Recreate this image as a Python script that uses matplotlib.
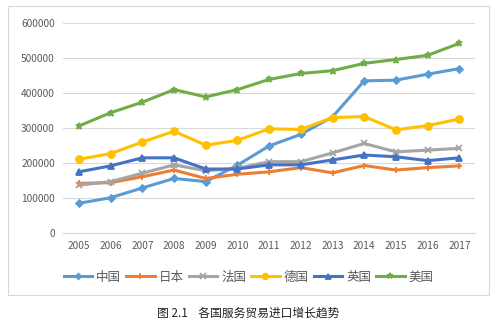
import numpy as np
import matplotlib.pyplot as plt
from matplotlib.patches import Rectangle

plt.rcParams['font.family'] = ['Noto Sans CJK SC', 'DejaVu Sans']

years = ['2005', '2006', '2007', '2008', '2009', '2010', '2011',
         '2012', '2013', '2014', '2015', '2016', '2017']

china = [85000, 101000, 129000, 156000, 147000, 194000, 249000,
         282000, 332000, 435000, 437000, 454000, 470000]
japan = [142000, 144000, 161000, 180000, 156000, 168000, 175000,
         187000, 172000, 193000, 180000, 187000, 192000]
france = [137000, 147000, 171000, 195000, 178000, 185000, 204000,
          204000, 229000, 256000, 232000, 237000, 242000]
germany = [211000, 227000, 260000, 291000, 251000, 265000, 298000,
           296000, 330000, 333000, 295000, 307000, 326000]
uk = [175000, 192000, 215000, 215000, 183000, 183000, 195000,
      195000, 209000, 223000, 218000, 207000, 215000]
usa = [306000, 344000, 374000, 410000, 389000, 410000, 439000,
       456000, 464000, 485000, 496000, 508000, 542000]

names = ['中国', '日本', '法国', '德国', '英国', '美国']
series = [china, japan, france, germany, uk, usa]
colors = ['#5B9BD5', '#ED7D31', '#A5A5A5', '#FFC000', '#4472C4', '#70AD47']
markers = ['D', '+', 'x', 'o', '^', '*']
msizes = [3.5, 5, 5, 5, 4.5, 5]

fig = plt.figure(figsize=(4.97, 3.21), dpi=100)
fig.patches.append(Rectangle((8 / 497, 1 - 295 / 321), 481 / 497, 289 / 321,
                             transform=fig.transFigure, fill=False,
                             edgecolor='#D9D9D9', linewidth=0.8))
ax = fig.add_axes([0.127, 0.274, 0.829, 0.654])

x = np.arange(len(years))
for vals, name, c, m, ms in zip(series, names, colors, markers, msizes):
    ax.plot(x, vals, color=c, linewidth=2.2, marker=m, markersize=ms,
            markeredgewidth=1.3, label=name)

ax.set_xlim(-0.5, 12.5)
ax.set_ylim(0, 600000)
ax.set_yticks(np.arange(0, 600001, 100000))
ax.set_xticks(x)
ax.set_xticklabels(years)
ax.grid(axis='y', color='#D9D9D9', linewidth=0.8)
ax.set_axisbelow(True)
for s in ['top', 'right', 'left']:
    ax.spines[s].set_visible(False)
ax.spines['bottom'].set_color('#D9D9D9')
ax.tick_params(length=0, labelsize=7.3, colors='#595959', pad=6)

leg = ax.legend(loc='center', bbox_to_anchor=(0.5, 1 - 277 / 321),
                bbox_transform=fig.transFigure, ncol=6, frameon=False,
                fontsize=9, handlelength=2.3, columnspacing=0.4,
                handletextpad=0.3, labelcolor='#595959', markerscale=0.8)

fig.text(0.5, 1 - 313 / 321, '图 2.1    各国服务贸易进口增长趋势',
         ha='center', va='center', fontsize=8.5, color='#222222')

fig.savefig('out.png', dpi=100)
